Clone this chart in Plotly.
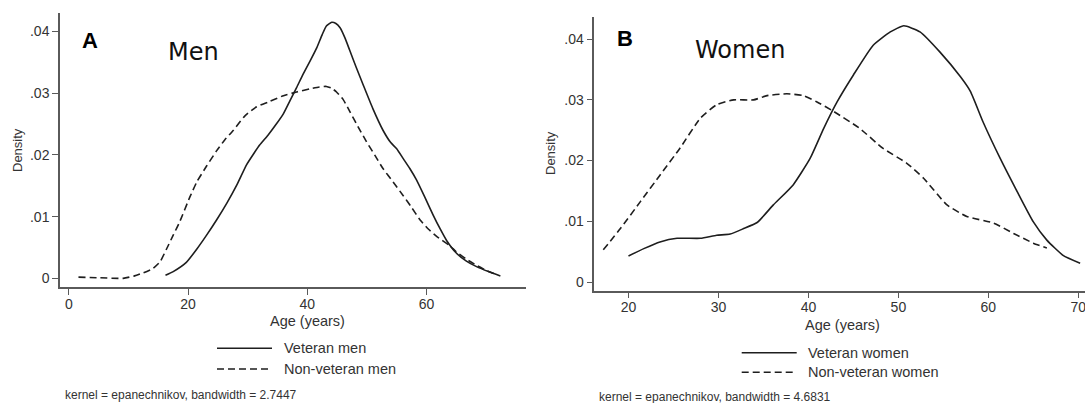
import plotly.graph_objects as go

W, H = 1085, 403

# ---------------- data ----------------
men_vet_age = [16.2, 17.5, 19.7, 21.5, 23.1, 24.8, 26.5, 28.2, 29.8, 31.0, 32.0, 33.4, 34.8, 36.0, 37.1, 38.2,
               39.3, 40.5, 41.6, 42.5, 43.2, 44.1, 44.8, 45.5, 46.3, 47.1, 48.2, 49.4, 51.0, 52.7, 54.0, 55.0,
               56.1, 57.2, 58.3, 59.7, 61.1, 62.3, 63.4, 65.0, 66.7, 68.4, 70.4, 72.4]
men_vet_den = [0.0005, 0.0011, 0.0026, 0.0048, 0.0070, 0.0095, 0.0122, 0.0152, 0.0184, 0.0202, 0.0216, 0.0232,
               0.0250, 0.0267, 0.0288, 0.0309, 0.0331, 0.0353, 0.0374, 0.0395, 0.0409, 0.0415, 0.0413, 0.0406,
               0.0390, 0.0370, 0.0342, 0.0313, 0.0275, 0.0240, 0.0220, 0.0210, 0.0194, 0.0178, 0.0160, 0.0132,
               0.0103, 0.0080, 0.0061, 0.0041, 0.0028, 0.0019, 0.0011, 0.0004]

men_non_age = [1.6, 5.0, 9.1, 11.0, 12.5, 14.1, 15.3, 16.4, 17.5, 18.6, 20.3, 21.5, 23.1, 24.8, 26.2, 27.6,
               29.5, 31.5, 33.5, 36.0, 38.2, 40.4, 42.0, 43.2, 44.1, 44.9, 46.0, 47.1, 48.5, 49.9, 51.3, 52.7,
               54.4, 56.1, 57.5, 58.9, 60.3, 61.7, 63.9, 65.0, 66.7, 68.4, 70.2, 72.0]
men_non_den = [0.0002, 0.0001, 0.0000, 0.0004, 0.0009, 0.0016, 0.0027, 0.0048, 0.0070, 0.0092, 0.0132, 0.0157,
               0.0182, 0.0207, 0.0225, 0.0240, 0.0263, 0.0278, 0.0286, 0.0296, 0.0302, 0.0307, 0.0310, 0.0311,
               0.0308, 0.0302, 0.0290, 0.0271, 0.0246, 0.0222, 0.0200, 0.0178, 0.0156, 0.0134, 0.0115, 0.0095,
               0.0080, 0.0068, 0.0053, 0.0043, 0.0031, 0.0021, 0.0012, 0.0005]

women_vet_age = [20.0, 21.7, 23.5, 25.4, 28.0, 29.8, 31.3, 32.8, 34.3, 36.1, 38.3, 40.2, 41.7, 43.2, 45.0,
                 47.2, 49.1, 50.6, 52.4, 54.6, 56.9, 58.0, 59.4, 61.3, 63.2, 65.0, 66.5, 68.3, 70.2]
women_vet_den = [0.0043, 0.0055, 0.0066, 0.0072, 0.0072, 0.0077, 0.0079, 0.0088, 0.0098, 0.0127, 0.0160,
                 0.0204, 0.0253, 0.0297, 0.0341, 0.0390, 0.0412, 0.0422, 0.0412, 0.0379, 0.0338, 0.0314,
                 0.0264, 0.0204, 0.0149, 0.0099, 0.0069, 0.0044, 0.0031]

women_non_age = [17.2, 19.1, 21.3, 23.5, 25.7, 28.0, 29.8, 31.7, 33.9, 35.4, 37.6, 39.4, 40.9, 42.8, 45.7,
                 48.3, 50.9, 52.8, 55.4, 57.6, 60.6, 62.8, 65.0, 66.5]
women_non_den = [0.0053, 0.0088, 0.0132, 0.0176, 0.0220, 0.0270, 0.0292, 0.0300, 0.0300, 0.0307, 0.0310,
                 0.0307, 0.0297, 0.0281, 0.0253, 0.0220, 0.0196, 0.0171, 0.0127, 0.0108, 0.0097, 0.0080,
                 0.0064, 0.0056]

y_tickvals = [0, 0.01, 0.02, 0.03, 0.04]
y_ticktext = ["0", ".01", ".02", ".03", ".04"]
men_xticks = [0, 20, 40, 60]
women_xticks = [20, 30, 40, 50, 60, 70]

men_names = ["Veteran men", "Non-veteran men"]
women_names = ["Veteran women", "Non-veteran women"]
men_note = "kernel = epanechnikov, bandwidth = 2.7447"
women_note = "kernel = epanechnikov, bandwidth = 4.6831"

# ---------------- styling ----------------
LINE = "#1e1e1e"
AXIS = "#5a5a5a"
TXT = "#333333"
FONT = "Liberation Sans, Arial, sans-serif"
DASH = "7px,4px"
SM = 0.5


def X(p):
    return p / W


def Y(p):
    return 1 - p / H


fig = go.Figure()
fig.add_trace(go.Scatter(x=men_vet_age, y=men_vet_den, mode="lines", name=men_names[0],
                         line=dict(color=LINE, width=1.6, shape="spline", smoothing=SM),
                         xaxis="x", yaxis="y", showlegend=False))
fig.add_trace(go.Scatter(x=men_non_age, y=men_non_den, mode="lines", name=men_names[1],
                         line=dict(color=LINE, width=1.6, dash=DASH, shape="spline", smoothing=SM),
                         xaxis="x", yaxis="y", showlegend=False))
fig.add_trace(go.Scatter(x=women_vet_age, y=women_vet_den, mode="lines", name=women_names[0],
                         line=dict(color=LINE, width=1.6, shape="spline", smoothing=SM),
                         xaxis="x2", yaxis="y2", showlegend=False))
fig.add_trace(go.Scatter(x=women_non_age, y=women_non_den, mode="lines", name=women_names[1],
                         line=dict(color=LINE, width=1.6, dash=DASH, shape="spline", smoothing=SM),
                         xaxis="x2", yaxis="y2", showlegend=False))

axis_common = dict(showline=True, linecolor=AXIS, linewidth=1.5, ticks="outside", ticklen=6,
                   tickcolor=AXIS, tickwidth=1.3, showgrid=False, zeroline=False,
                   ticklabeloverflow="allow",
                   tickfont=dict(family=FONT, size=14, color=TXT))

fig.update_layout(
    width=W, height=H,
    margin=dict(l=0, r=0, t=0, b=0),
    paper_bgcolor="white", plot_bgcolor="white",
    xaxis=dict(domain=[X(60), X(526)], range=[-1.5, 76.7], anchor="y",
               tickvals=men_xticks, ticklabelstandoff=-3, **axis_common),
    yaxis=dict(domain=[Y(287), Y(13)], range=[-0.0014, 0.043], anchor="x",
               tickvals=y_tickvals, ticktext=y_ticktext, **axis_common),
    xaxis2=dict(domain=[X(594.3), 1.0], range=[16.2, 70.74], anchor="y2",
                tickvals=women_xticks, ticklabelstandoff=-3, **axis_common),
    yaxis2=dict(domain=[Y(290.7), Y(16.7)], range=[-0.00143, 0.0437], anchor="x2",
                tickvals=y_tickvals, ticktext=y_ticktext, **axis_common),
    showlegend=False,
)

ann = []


def text(t, x, y, size, xanchor="center", bold=False, family=FONT, color=TXT, angle=0):
    ann.append(dict(text=("<b>%s</b>" % t) if bold else t, x=X(x), y=Y(y), xref="paper", yref="paper",
                    xanchor=xanchor, yanchor="middle", showarrow=False, textangle=angle,
                    font=dict(family=family, size=size, color=color)))


# panel letters and titles
text("A", 90, 40, 22, bold=True, color="black")
text("Men", 193.5, 52, 24, family="DejaVu Sans, sans-serif", color="#111")
text("B", 625, 38, 22, bold=True, color="black")
text("Women", 740, 50, 24, family="DejaVu Sans, sans-serif", color="#111")

# axis titles
text("Density", 17.5, 150.5, 13, angle=-90)
text("Density", 551, 153, 13, angle=-90)
text("Age (years)", 307.5, 321, 14.5)
text("Age (years)", 842, 324.5, 14.5)

# legends
text(men_names[0], 282, 348, 14.5, xanchor="left")
text(men_names[1], 282, 369, 14.5, xanchor="left")
text(women_names[0], 805.7, 352.7, 14.5, xanchor="left")
text(women_names[1], 805.7, 372.3, 14.5, xanchor="left")

# notes
text(men_note, 63, 395, 12, xanchor="left")
text(women_note, 597, 397, 12, xanchor="left")

fig.update_layout(annotations=ann)

shapes = []
for (x0, x1, y, dash) in [(217, 272, 348.3, "solid"), (217, 272, 369, DASH),
                          (741.7, 796.7, 352.7, "solid"), (741.7, 796.7, 372.3, DASH)]:
    shapes.append(dict(type="line", xref="paper", yref="paper", x0=X(x0), x1=X(x1), y0=Y(y), y1=Y(y),
                       line=dict(color=LINE, width=1.6, dash=dash)))
fig.update_layout(shapes=shapes)

fig.write_html("out.html", config={"displayModeBar": False},
               post_script="document.body.style.margin='0';document.body.style.overflow='hidden';")
